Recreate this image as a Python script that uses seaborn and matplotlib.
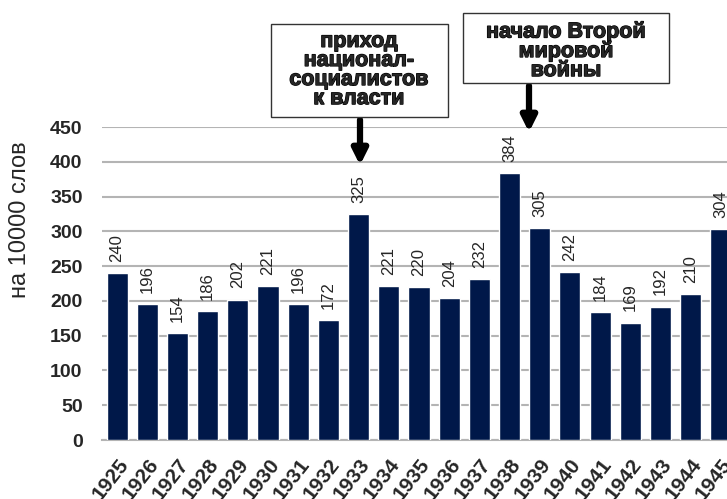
import matplotlib
matplotlib.use("Agg")
import pandas as pd
import seaborn as sns
from matplotlib import pyplot as plt
from matplotlib.patches import Rectangle
from matplotlib import patheffects as pe

# частота на 10000 слов по годам
years = ["1925", "1926", "1927", "1928", "1929", "1930", "1931", "1932", "1933", "1934", "1935",
         "1936", "1937", "1938", "1939", "1940", "1941", "1942", "1943", "1944", "1945"]
values = [240, 196, 154, 186, 202, 221, 196, 172, 325, 221, 220,
          204, 232, 384, 305, 242, 184, 169, 192, 210, 304]
yticks = [0, 50, 100, 150, 200, 250, 300, 350, 400, 450]
ylabel = "на 10000 слов"
note1 = "приход\nнационал-\nсоциалистов\nк власти"
note2 = "начало Второй\nмировой\nвойны"

sns.set_style("white")
plt.rcParams["font.family"] = ["Liberation Sans", "DejaVu Sans"]

df = pd.DataFrame({"year": years, "value": values})

W, H = 727, 499
fig = plt.figure(figsize=(W / 100, H / 100), dpi=100)
ax = fig.add_axes([0.1403, 0.1182, 0.872, 0.627])
sns.barplot(data=df, x="year", y="value", color="#001849", saturation=1,
            width=0.7, ax=ax, zorder=3)

ax.set_ylim(0, 450)
ax.set_xlim(-0.5, len(years) - 0.5)
ax.set_yticks(yticks)
ax.yaxis.grid(True, color="#b4b4b4", linewidth=1.5, zorder=0)
ax.set_axisbelow(True)
for s in ["top", "right", "left"]:
    ax.spines[s].set_visible(False)
ax.spines["bottom"].set_color("#b4b4b4")
ax.spines["bottom"].set_linewidth(1.5)
ax.tick_params(axis="y", length=0, pad=14, labelsize=14)
ax.tick_params(axis="x", length=0, pad=11, labelsize=15)
for lab in ax.get_yticklabels():
    lab.set_fontweight("bold")
for lab in ax.get_xticklabels():
    lab.set_fontweight("bold")
    lab.set_rotation(52)
    lab.set_ha("right")
    lab.set_rotation_mode("anchor")
ax.set_xlabel("")
ax.set_ylabel("")

for i, v in enumerate(values):
    ax.annotate(str(v), (i, v), xytext=(0, 8), textcoords="offset points",
                rotation=90, ha="center", va="bottom", fontsize=12)

fig.text(20 / W, 1 - 220 / H, ylabel, rotation=90, ha="center", va="center", fontsize=17)

# подписи событий: рамки в пикселях картинки
heavy = [pe.withStroke(linewidth=0.9, foreground="black")]
fig.patches.append(Rectangle((271 / W, 1 - 117 / H), 177 / W, 93 / H, transform=fig.transFigure,
                             fc="white", ec="#333333", lw=1, zorder=5))
fig.patches.append(Rectangle((463 / W, 1 - 83 / H), 206 / W, 70 / H, transform=fig.transFigure,
                             fc="white", ec="#333333", lw=1, zorder=5))
fig.text(359 / W, 1 - 70 / H, note1, ha="center", va="center", fontsize=15.5, fontweight="bold",
         linespacing=0.88, path_effects=heavy, zorder=6)
fig.text(566 / W, 1 - 21 / H, note2, ha="center", va="top", fontsize=15.5, fontweight="bold",
         linespacing=0.88, path_effects=heavy, zorder=6)

arrow = dict(arrowstyle="-|>,head_width=0.45,head_length=0.9", color="black", lw=4.5)
ax.annotate("", xy=(360 / W, 1 - 168 / H), xytext=(360 / W, 1 - 117 / H),
            xycoords="figure fraction", textcoords="figure fraction", arrowprops=arrow)
ax.annotate("", xy=(529 / W, 1 - 135 / H), xytext=(529 / W, 1 - 83 / H),
            xycoords="figure fraction", textcoords="figure fraction", arrowprops=arrow)

plt.savefig("out.png", dpi=100)
